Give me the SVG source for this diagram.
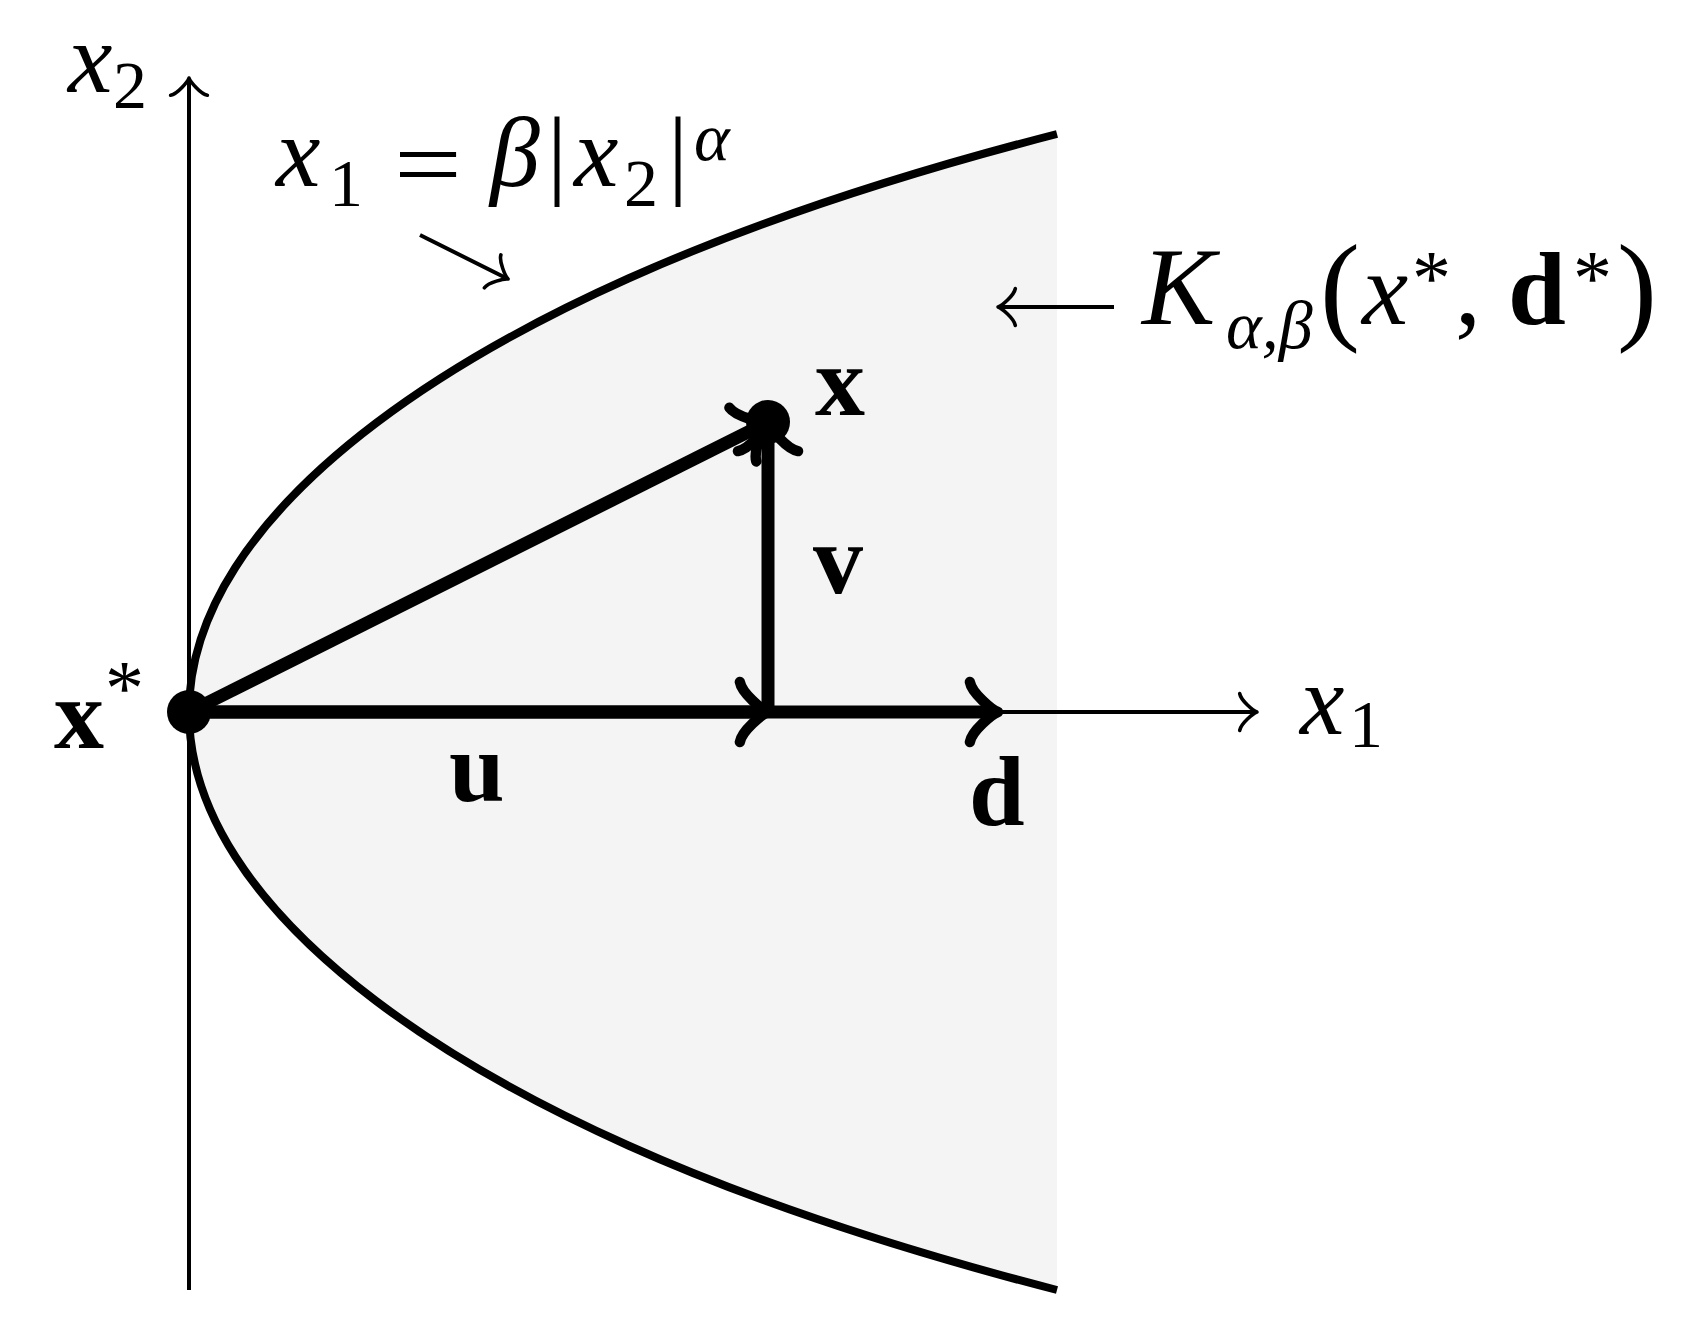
<svg xmlns="http://www.w3.org/2000/svg" width="1692" height="1328" viewBox="0 0 1692 1328">
<style>
.mi{font-family:"Liberation Serif",serif;font-style:italic;fill:#000}
.rm{font-family:"Liberation Serif",serif;fill:#000}
.bf{font-family:"Liberation Serif",serif;font-weight:bold;fill:#000}
.thin{stroke:#000;stroke-width:4;fill:none}
.thick{stroke:#000;stroke-width:13;fill:none}
.curve{stroke:#000;stroke-width:8;fill:none;stroke-linecap:butt}
</style>
<defs>
<marker id="toThick" markerUnits="userSpaceOnUse" orient="auto" markerWidth="80" markerHeight="80" refX="40" refY="40" viewBox="0 0 80 80" overflow="visible">
<path d="M17.5,70 C19.4,58.75 40,41.9 45.6,40 C40,38.1 19.4,21.25 17.5,10" fill="none" stroke="#000" stroke-width="10.5" stroke-linecap="round" stroke-linejoin="round"/>
</marker>
<marker id="toThin" markerUnits="userSpaceOnUse" orient="auto" markerWidth="60" markerHeight="60" refX="30" refY="30" viewBox="0 0 60 60" overflow="visible">
<path d="M16.2,48.4 C17.35,41.5 30,31.15 33.45,30 C30,28.85 17.35,18.5 16.2,11.6" fill="none" stroke="#000" stroke-width="3.6" stroke-linecap="round" stroke-linejoin="round"/>
</marker>
</defs>
<rect width="1692" height="1328" fill="#fff"/>
<g id="region">
<path d="M1057,134 C869.87,182.17 735.99,230.33 628.3,278.5 C520.61,326.67 439.85,374.83 376.14,423 C312.43,471.17 266.24,519.33 235.32,567.5 C204.4,615.67 189,663.83 189,712 C189,760.17 204.4,808.33 235.32,856.5 C266.24,904.67 312.43,952.83 376.14,1001 C439.85,1049.17 520.61,1097.33 628.3,1145.5 C735.99,1193.67 869.87,1241.83 1057,1290 Z" fill="#f4f4f4"/>
</g>
<g id="axes">
<line class="thin" x1="189" y1="1290" x2="189" y2="81.5" marker-end="url(#toThin)"/>
<line class="thin" x1="189" y1="712" x2="1253.5" y2="712" marker-end="url(#toThin)"/>
</g>
<g id="boundary">
<path class="curve" d="M1057,134 C869.87,182.17 735.99,230.33 628.3,278.5 C520.61,326.67 439.85,374.83 376.14,423 C312.43,471.17 266.24,519.33 235.32,567.5 C204.4,615.67 189,663.83 189,712 C189,760.17 204.4,808.33 235.32,856.5 C266.24,904.67 312.43,952.83 376.14,1001 C439.85,1049.17 520.61,1097.33 628.3,1145.5 C735.99,1193.67 869.87,1241.83 1057,1290"/>
</g>
<g id="connectors">
<line class="thick" x1="189" y1="712" x2="762.4" y2="712" marker-end="url(#toThick)"/>
<line class="thick" x1="189" y1="712" x2="992.4" y2="712" marker-end="url(#toThick)"/>
<line class="thick" x1="768" y1="712" x2="768" y2="428.6" marker-end="url(#toThick)"/>
<line class="thick" x1="189" y1="712" x2="763" y2="424.5" marker-end="url(#toThick)"/>
<line class="thin" x1="420" y1="235" x2="505" y2="277.5" stroke-width="4.5" marker-end="url(#toThin)"/>
<line class="thin" x1="1114" y1="307" x2="1001.5" y2="307" stroke-width="4.5" marker-end="url(#toThin)"/>
</g>
<g id="node-xstar">
<circle cx="189" cy="712" r="22" fill="#000"/>
<text class="bf" x="54" y="748" font-size="100">x</text>
<text class="rm" x="105" y="714" font-size="78">*</text>
</g>
<g id="node-x">
<circle cx="768" cy="422" r="22" fill="#000"/>
<text class="bf" x="815" y="415" font-size="100">x</text>
</g>
<g id="labels">
<text class="mi" x="68" y="92" font-size="100">x</text>
<text class="rm" x="113" y="108" font-size="68">2</text>
<text class="mi" x="1300" y="734" font-size="100">x</text>
<text class="rm" x="1349" y="747" font-size="68">1</text>
<text class="bf" x="813" y="593" font-size="100">v</text>
<text class="bf" x="449" y="801" font-size="100">u</text>
<text class="bf" x="969" y="825" font-size="100">d</text>
</g>
<g id="formula">
<text class="mi" x="276" y="186" font-size="100">x</text>
<text class="rm" x="329" y="206" font-size="68">1</text>
<text class="rm" x="394" y="198" font-size="100" textLength="68" lengthAdjust="spacingAndGlyphs">=</text>
<text class="mi" x="490" y="186" font-size="100">β</text>
<text class="rm" x="547" y="186" font-size="100">|</text>
<text class="mi" x="574" y="186" font-size="100">x</text>
<text class="rm" x="624" y="206" font-size="68">2</text>
<text class="rm" x="668" y="186" font-size="100">|</text>
<text class="mi" x="694" y="160" font-size="68">α</text>
</g>
<g id="cone-label">
<text class="mi" x="1142" y="324" font-size="110">K</text>
<text class="mi" x="1226" y="348" font-size="68">α,β</text>
<text class="rm" x="1320" y="328" font-size="120">(</text>
<text class="mi" x="1362" y="324" font-size="104">x</text>
<text class="rm" x="1412" y="304" font-size="78">*</text>
<text class="rm" x="1455" y="324" font-size="104">,</text>
<text class="bf" x="1508" y="324" font-size="104">d</text>
<text class="rm" x="1573" y="304" font-size="78">*</text>
<text class="rm" x="1617" y="328" font-size="120">)</text>
</g>
</svg>
